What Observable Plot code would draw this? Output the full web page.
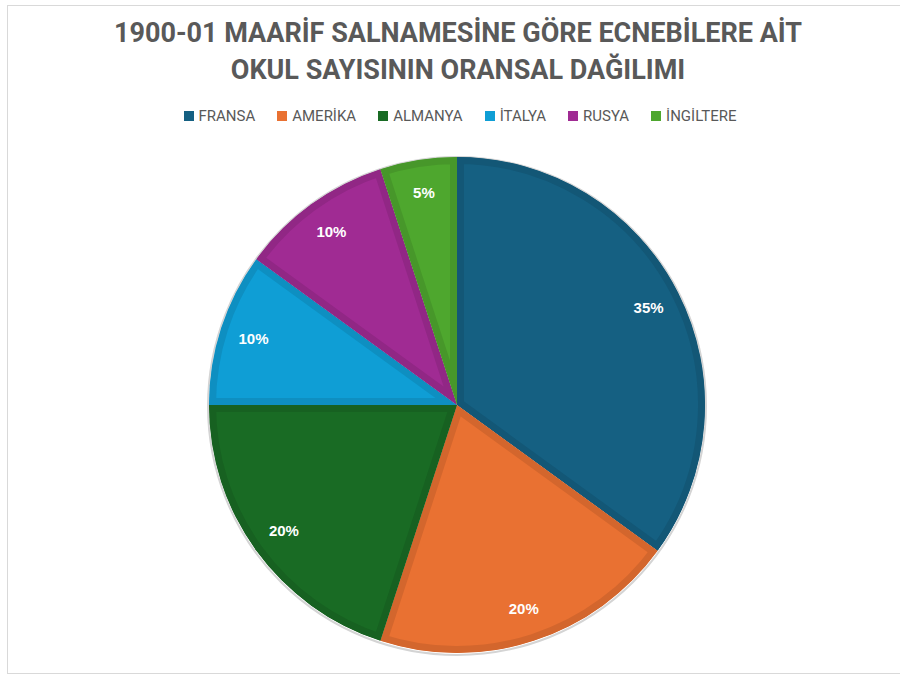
<!DOCTYPE html>
<html>
<head>
<meta charset="utf-8">
<script src="https://cdn.jsdelivr.net/npm/d3@7"></script>
<script src="https://cdn.jsdelivr.net/npm/@observablehq/plot@0.6"></script>
<style>
  html, body { margin: 0; padding: 0; background: #fff; }
  #frame { position: absolute; left: 7px; top: 5px; width: 900px; height: 667px;
           border-left: 1px solid #d9d9d9; border-top: 1px solid #d9d9d9; border-bottom: 1px solid #d9d9d9; }
  #title { position: absolute; left: 0; top: 15px; width: 916px; text-align: center;
           font-family: Roboto, "Liberation Sans", sans-serif; font-weight: 700; font-size: 27px;
           line-height: 37px; color: #595959; }
  #legend { position: absolute; left: 0; top: 107px; width: 920px; display: flex; justify-content: center;
            gap: 22px; font-family: Roboto, "Liberation Sans", sans-serif; font-size: 15px; color: #595959; }
  #legend .item { display: flex; align-items: center; gap: 5px; }
  #legend .sw { width: 10px; height: 10px; display: inline-block; }
  #chart { position: absolute; left: 0; top: 140px; }
</style>
</head>
<body>
<div id="frame"></div>
<div id="title">1900-01 MAARİF SALNAMESİNE GÖRE ECNEBİLERE AİT<br>OKUL SAYISININ ORANSAL DAĞILIMI</div>
<div id="legend"></div>
<div id="chart"></div>
<script>
const countries = ["FRANSA", "AMERİKA", "ALMANYA", "İTALYA", "RUSYA", "İNGİLTERE"];
const shares = [35, 20, 20, 10, 10, 5];
const colors = ["#156082", "#E97132", "#196B24", "#0F9ED5", "#A02B93", "#4EA72E"];

const data = countries.map((name, i) => ({name, share: shares[i]}));
const arcs = d3.pie().sort(null).value(d => d.share)(data);
arcs.forEach(a => { a.mid = (a.startAngle + a.endAngle) / 2; a.name = a.data.name; a.share = a.data.share; });

// legend
const legend = document.getElementById("legend");
countries.forEach((c, i) => {
  const it = document.createElement("div");
  it.className = "item";
  it.innerHTML = `<span class="sw" style="background:${colors[i]}"></span><span>${c}</span>`;
  legend.appendChild(it);
});

const labelK = 0.865;

function pieMark(index, scales, values, dimensions) {
  const {x, y, color} = scales;
  const cx = x(0), cy = y(0), r = x(1) - x(0);
  const g = d3.create("svg:g").attr("transform", `translate(${cx},${cy})`);
  const arc = d3.arc().innerRadius(0).outerRadius(r);
  // soft outer shadow
  g.append("circle").attr("cx", 0).attr("cy", 1).attr("r", r + 1)
    .attr("fill", "none").attr("stroke", "#d4d4d4").attr("stroke-width", 2);
  const defs = g.append("defs");
  arcs.forEach((a, i) => {
    const id = "slice-clip-" + i;
    defs.append("clipPath").attr("id", id).append("path").attr("d", arc(a));
    const col = color ? color(a.name) : colors[i];
    g.append("path")
      .attr("d", arc(a))
      .attr("fill", col)
      .attr("stroke", d3.color(col).darker(0.28).formatHex())
      .attr("stroke-width", 14)
      .attr("stroke-linejoin", "round")
      .attr("clip-path", `url(#${id})`);
  });
  return g.node();
}

const chart = Plot.plot({
  width: 900,
  height: 530,
  marginLeft: 209,
  marginRight: 195,
  marginTop: 17,
  marginBottom: 17,
  x: {domain: [-1, 1], axis: null},
  y: {domain: [-1, 1], axis: null},
  color: {domain: countries, range: colors},
  marks: [
    Plot.dot(arcs, {x: 0, y: 0, fill: "name", r: 0}),
    pieMark,
    Plot.text(arcs, {
      x: a => labelK * Math.sin(a.mid),
      y: a => labelK * Math.cos(a.mid),
      text: a => a.share + "%",
      fill: "white",
      fontWeight: "bold",
      fontSize: 15,
      fontFamily: "Liberation Sans, Arial, sans-serif"
    })
  ]
});
document.getElementById("chart").appendChild(chart);
</script>
</body>
</html>
